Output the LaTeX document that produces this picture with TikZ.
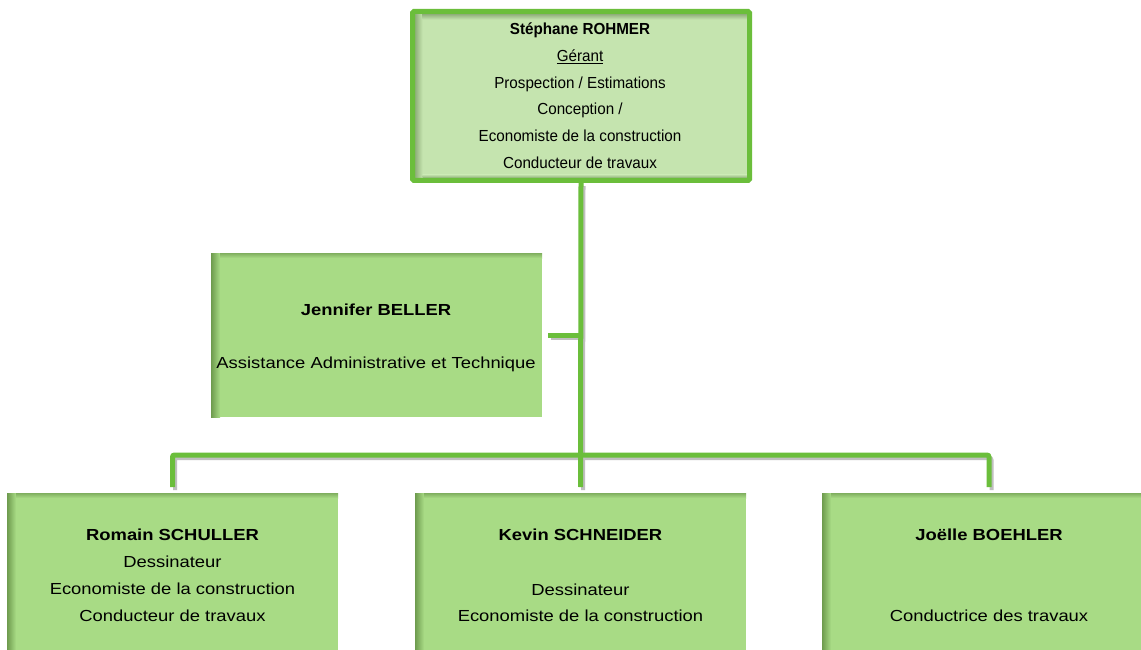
\documentclass[tikz,border=0pt]{standalone}
\usepackage{fontspec}
\setmainfont{Liberation Sans}
\newfontfamily\widefont[FakeStretch=1.15]{Liberation Sans}
\newfontfamily\topfont[FakeStretch=0.95]{Liberation Sans}
\definecolor{linegreen}{HTML}{6BBE3B}
\definecolor{topfill}{HTML}{C5E4AF}
\definecolor{boxfill}{HTML}{A8DB85}
\definecolor{shadowgreen}{HTML}{6E9B4E}
\definecolor{topshadow}{HTML}{8FAE7A}
\tikzset{
  lowbox/.style={fill=boxfill, draw=none, outer sep=0pt, inner sep=0pt},
  topbox/.style={fill=topfill, draw=none, outer sep=0pt, inner sep=0pt},
  conn/.style={draw=linegreen, line width=5pt, rounded corners=2pt},
  connshadow/.style={draw=black!25, line width=4pt, rounded corners=2pt, transform canvas={shift={(2.5pt,-3pt)}}},
  lowtext/.style={anchor=base, font=\widefont\fontsize{16}{19}\selectfont, inner sep=0pt},
  toptext/.style={anchor=base, font=\topfont\fontsize{16}{19}\selectfont, inner sep=0pt},
}
\begin{document}
\begin{tikzpicture}[x=1pt,y=-1pt]
\clip (0,0) rectangle (1141,650);
\fill[white] (0,0) rectangle (1141,650);

% boxes
\node[topbox, minimum width=337pt, minimum height=169pt, anchor=north west] (top) at (412.5,11.5) {};
\node[lowbox, minimum width=331pt, minimum height=164pt, anchor=north west] (jen) at (211,253) {};
\node[lowbox, minimum width=331pt, minimum height=200pt, anchor=north west] (romain) at (7,493) {};
\node[lowbox, minimum width=331pt, minimum height=200pt, anchor=north west] (kevin) at (415,493) {};
\node[lowbox, minimum width=334pt, minimum height=200pt, anchor=north west] (joelle) at (822,493) {};

% inner shadows
\foreach \b in {jen,romain,kevin,joelle}{
  \shade[left color=shadowgreen, right color=boxfill] (\b.north west) rectangle ([xshift=9pt]\b.south west);
  \shade[top color=shadowgreen!70!boxfill, bottom color=boxfill] ([xshift=9pt]\b.north west) rectangle ([yshift=-5pt]\b.north east);
}
\shade[left color=topshadow, right color=topfill] ([shift={(2.5pt,-2.5pt)}]top.north west) rectangle ([shift={(10pt,2.5pt)}]top.south west);
\shade[top color=topshadow, bottom color=topfill] ([shift={(10pt,-2.5pt)}]top.north west) rectangle ([shift={(-2.5pt,-8pt)}]top.north east);
\shade[bottom color=topshadow, top color=topfill] ([shift={(10pt,2.5pt)}]top.south west) rectangle ([shift={(-2.5pt,6pt)}]top.south east);
\draw[linegreen, line width=5pt, rounded corners=1.5pt] (top.north west) rectangle (top.south east);

% connectors
\coordinate (bar) at (top.south |- 0,455);
\coordinate (jtrunk) at (top.south |- jen.east);
\draw[connshadow] ([yshift=-2.5pt]top.south) -- ([yshift=6pt]kevin.north);
\draw[connshadow] ([xshift=6pt]jen.east) -- (jtrunk);
\draw[connshadow] ([yshift=6pt]romain.north) |- (bar) -| ([yshift=6pt]joelle.north);
\draw[conn] ([xshift=6pt]jen.east) -- (jtrunk);
\draw[conn] ([yshift=6pt]romain.north) |- (bar) -| ([yshift=6pt]joelle.north);
\draw[conn] ([yshift=-2.5pt]top.south) -- ([yshift=6pt]kevin.north);

% texts
\node[toptext] (t1) at (580,35) {\bfseries Stéphane ROHMER};
\node[toptext] (t2) at (580,62) {\underline{Gérant}};
\node[toptext] (t3) at (580,89) {Prospection / Estimations};
\node[toptext] (t4) at (580,115) {Conception /};
\node[toptext] (t5) at (580,142) {Economiste de la construction};
\node[toptext] (t6) at (580,168) {Conducteur de travaux};

\node[lowtext] (j1) at (376,315) {\bfseries Jennifer BELLER};
\node[lowtext] (j2) at (376,368) {Assistance Administrative et Technique};

\node[lowtext] (r1) at (172.5,540) {\bfseries Romain SCHULLER};
\node[lowtext] (r2) at (172.5,567) {Dessinateur};
\node[lowtext] (r3) at (172.5,594) {Economiste de la construction};
\node[lowtext] (r4) at (172.5,621) {Conducteur de travaux};

\node[lowtext] (k1) at (580.5,540) {\bfseries Kevin SCHNEIDER};
\node[lowtext] (k2) at (580.5,595) {Dessinateur};
\node[lowtext] (k3) at (580.5,621) {Economiste de la construction};

\node[lowtext] (o1) at (989,540) {\bfseries Joëlle BOEHLER};
\node[lowtext] (o2) at (989,621) {Conductrice des travaux};
\end{tikzpicture}
\end{document}
